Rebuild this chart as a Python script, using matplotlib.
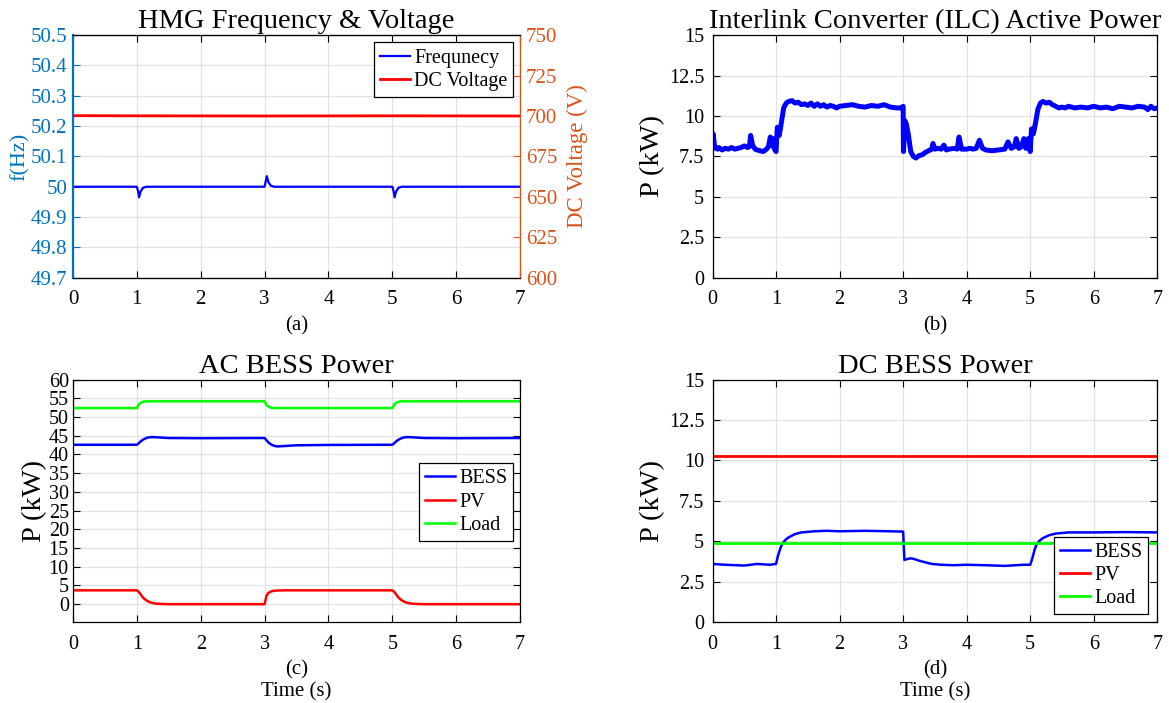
import matplotlib.pyplot as plt
from matplotlib.ticker import FormatStrFormatter, MultipleLocator

plt.rcParams['font.family'] = ['Liberation Serif', 'DejaVu Serif']
plt.rcParams['mathtext.fontset'] = 'stix'

# ---- data ----
# (a) HMG frequency and DC voltage
freq_t = [0, 1.0, 1.02, 1.035, 1.06, 1.10, 1.15, 3.0, 3.02, 3.035, 3.06, 3.10, 3.15,
          5.0, 5.02, 5.035, 5.06, 5.10, 5.15, 7.0]
freq_hz = [50, 50, 49.985, 49.965, 49.985, 49.997, 50, 50, 50.02, 50.035, 50.015, 50.003, 50,
           50, 49.985, 49.965, 49.985, 49.997, 50, 50]
vdc_t = [0, 1.0, 3.0, 5.0, 7.0]
vdc_v = [700.2, 700.1, 700.0, 700.1, 700.0]

# (b) ILC active power (kW)
ilc_t = [0, 0.01, 0.03, 0.05, 0.08, 0.1, 0.15, 0.2, 0.25, 0.3, 0.35, 0.4, 0.45, 0.5, 0.55,
         0.58, 0.6, 0.63, 0.67, 0.7, 0.75, 0.8, 0.85, 0.88, 0.91, 0.93, 0.95, 0.97, 1.0,
         1.02, 1.05, 1.08, 1.12, 1.16, 1.2, 1.25, 1.3, 1.35, 1.4, 1.45, 1.5, 1.55, 1.6,
         1.65, 1.7, 1.75, 1.8, 1.85, 1.9, 1.95, 2.0, 2.1, 2.2, 2.3, 2.4, 2.5, 2.6, 2.7,
         2.8, 2.9, 2.97, 3.0, 3.005, 3.03, 3.05, 3.08, 3.12, 3.16, 3.2, 3.25, 3.3, 3.35,
         3.4, 3.45, 3.47, 3.5, 3.55, 3.6, 3.64, 3.68, 3.72, 3.8, 3.85, 3.88, 3.92, 4.0,
         4.05, 4.1, 4.15, 4.2, 4.25, 4.3, 4.4, 4.5, 4.6, 4.65, 4.7, 4.75, 4.78, 4.82,
         4.86, 4.9, 4.93, 4.97, 5.0, 5.02, 5.05, 5.08, 5.12, 5.16, 5.2, 5.25, 5.3, 5.35,
         5.4, 5.45, 5.5, 5.55, 5.6, 5.7, 5.8, 5.9, 6.0, 6.1, 6.2, 6.3, 6.4, 6.5, 6.6,
         6.7, 6.8, 6.85, 6.9, 6.95, 7.0]
ilc_kw = [8.5, 8.9, 8.2, 8.0, 7.95, 8.05, 7.9, 8.0, 7.95, 8.05, 7.95, 8.0, 8.05, 8.15, 8.05,
          8.1, 8.8, 8.2, 7.95, 7.9, 7.85, 7.8, 7.95, 8.1, 8.7, 8.2, 8.6, 8.0, 7.8,
          9.3, 8.8, 9.5, 10.5, 10.8, 10.9, 10.95, 10.8, 10.85, 10.7, 10.75, 10.65, 10.8, 10.6,
          10.75, 10.6, 10.7, 10.55, 10.65, 10.6, 10.5, 10.6, 10.65, 10.7, 10.6, 10.55, 10.65, 10.6, 10.7,
          10.55, 10.5, 10.5, 10.6, 7.8, 9.7, 9.5, 8.9, 7.8, 7.5, 7.4, 7.55, 7.6, 7.75,
          7.85, 7.95, 8.3, 7.95, 8.0, 7.95, 8.2, 7.9, 7.95, 8.0, 7.95, 8.7, 7.95, 7.95,
          8.0, 7.95, 8.0, 8.5, 8.0, 7.9, 7.85, 7.9, 7.95, 8.4, 8.0, 8.1, 8.6, 8.0,
          8.1, 8.6, 8.0, 8.6, 7.8, 9.2, 8.9, 9.5, 10.4, 10.8, 10.9, 10.8, 10.85, 10.7,
          10.6, 10.5, 10.55, 10.5, 10.6, 10.5, 10.55, 10.5, 10.6, 10.5, 10.55, 10.45, 10.6, 10.55, 10.5,
          10.6, 10.55, 10.4, 10.6, 10.45, 10.5]

# (c) AC side powers (kW)
ac_t = [0, 1.0, 1.03, 1.06, 1.1, 1.15, 1.2, 1.25, 1.3, 1.4, 1.5, 2.0, 3.0, 3.03, 3.06,
        3.1, 3.15, 3.2, 3.3, 3.5, 4.0, 5.0, 5.03, 5.06, 5.1, 5.15, 5.2, 5.25, 5.3, 5.4,
        5.5, 6.0, 7.0]
ac_bess = [42.6, 42.6, 43.0, 43.5, 44.0, 44.4, 44.6, 44.65, 44.6, 44.5, 44.4, 44.35, 44.4, 43.8, 43.2,
           42.7, 42.3, 42.15, 42.25, 42.45, 42.55, 42.6, 43.0, 43.5, 44.0, 44.4, 44.6, 44.65, 44.6, 44.5,
           44.4, 44.35, 44.4]
ac_pv = [3.7, 3.7, 3.3, 2.6, 1.7, 1.0, 0.55, 0.3, 0.15, 0.05, 0.0, 0.0, 0.0, 2.3, 3.0,
         3.4, 3.6, 3.65, 3.7, 3.7, 3.7, 3.7, 3.3, 2.6, 1.7, 1.0, 0.55, 0.3, 0.15, 0.05,
         0.0, 0.0, 0.0]
ac_load = [52.4, 52.4, 53.4, 53.8, 54.1, 54.2, 54.2, 54.2, 54.2, 54.2, 54.2, 54.2, 54.2, 53.2, 52.8,
           52.5, 52.4, 52.4, 52.4, 52.4, 52.4, 52.4, 53.4, 53.8, 54.1, 54.2, 54.2, 54.2, 54.2, 54.2,
           54.2, 54.2, 54.2]

# (d) DC side powers (kW)
dc_t = [0, 0.2, 0.5, 0.7, 0.9, 1.0, 1.03, 1.07, 1.1, 1.15, 1.2, 1.3, 1.4, 1.6, 1.8, 2.0,
        2.4, 2.8, 3.0, 3.02, 3.06, 3.12, 3.18, 3.25, 3.35, 3.45, 3.6, 3.8, 4.0, 4.3,
        4.6, 4.9, 5.0, 5.03, 5.07, 5.1, 5.15, 5.2, 5.3, 5.4, 5.6, 6.0, 6.5, 7.0]
dc_bess = [3.6, 3.55, 3.5, 3.6, 3.55, 3.6, 4.1, 4.6, 4.85, 5.1, 5.25, 5.45, 5.55, 5.62, 5.65, 5.62,
           5.65, 5.62, 5.6, 3.85, 3.9, 3.95, 3.9, 3.8, 3.7, 3.6, 3.55, 3.52, 3.55, 3.52,
           3.48, 3.55, 3.55, 3.9, 4.5, 4.8, 5.05, 5.2, 5.38, 5.48, 5.55, 5.55, 5.57, 5.55]
dc_pv_t = [0, 7.0]
dc_pv = [10.25, 10.25]
dc_load_t = [0, 7.0]
dc_load = [4.9, 4.9]

blue = (0, 0, 1)
red = (1, 0, 0)
green = (0, 1, 0)
left_col = '#0072BD'
right_col = '#D95319'

TICK = 14.5
TITLE = 20.5
SUB = 15


def style_axes(ax):
    # MATLAB look: box on, ticks inside, light grid
    ax.grid(True, color='#e2e2e2', linewidth=0.9)
    ax.set_axisbelow(True)
    ax.tick_params(direction='in', length=5, width=0.8, top=True, right=True,
                   labelsize=TICK)
    ax.tick_params(axis='x', pad=9)
    ax.tick_params(axis='y', pad=6)
    for s in ax.spines.values():
        s.set_linewidth(0.9)
    ax.set_xlim(0, 7)
    ax.xaxis.set_major_locator(MultipleLocator(1))


def add_legend(ax, **kw):
    leg = ax.legend(fontsize=14.5, fancybox=False, edgecolor='black', framealpha=1,
                    handlelength=1.5, handletextpad=0.2, borderpad=0.3,
                    labelspacing=0.2, borderaxespad=0, **kw)
    leg.get_frame().set_linewidth(0.9)
    return leg


fig = plt.figure(figsize=(11.69, 7.03), dpi=100)
ax_a = fig.add_axes([0.0624, 0.605, 0.3825, 0.345])
ax_b = fig.add_axes([0.6095, 0.605, 0.3805, 0.345])
ax_c = fig.add_axes([0.0624, 0.115, 0.3825, 0.345])
ax_d = fig.add_axes([0.6095, 0.115, 0.3805, 0.345])

# ---- (a) ----
style_axes(ax_a)
ax_a.tick_params(right=False)
ln1, = ax_a.plot(freq_t, freq_hz, color=blue, lw=1.6, label='Frequnecy')
ax_a.set_ylim(49.7, 50.5)
ax_a.yaxis.set_major_locator(MultipleLocator(0.1))
ax_a.yaxis.set_major_formatter(FormatStrFormatter('%g'))
ax_a.tick_params(axis='y', colors=left_col, labelsize=15, pad=4)
ax_a.tick_params(axis='x', labelsize=15)
ax_a.spines['left'].set_color(left_col)
ax_a.spines['left'].set_linewidth(1.6)
ax_a.spines['right'].set_color(right_col)
ax_a.set_ylabel('f(Hz)', color=left_col, fontsize=16, labelpad=1)
ax_a.set_xlabel('(a)', fontsize=SUB, labelpad=5)
ax_a.set_title('HMG Frequency & Voltage', fontsize=TITLE, pad=5)

ax_a2 = ax_a.twinx()
ln2, = ax_a2.plot(vdc_t, vdc_v, color=red, lw=2, label='DC Voltage')
ax_a2.set_ylim(600, 750)
ax_a2.yaxis.set_major_locator(MultipleLocator(25))
ax_a2.tick_params(axis='y', direction='in', length=5, colors=right_col, labelsize=15, pad=4)
ax_a2.spines['right'].set_color(right_col)
ax_a2.spines['left'].set_visible(False)
ax_a2.set_ylabel('DC Voltage (V)', color=right_col, fontsize=16.5, labelpad=7)
add_legend(ax_a2, handles=[ln1, ln2], labels=['Frequnecy', 'DC Voltage'],
           loc='upper right', bbox_to_anchor=(0.985, 0.97))

# ---- (b) ----
style_axes(ax_b)
ax_b.plot(ilc_t, ilc_kw, color=blue, lw=3.6, solid_joinstyle='round')
ax_b.set_ylim(0, 15)
ax_b.yaxis.set_major_locator(MultipleLocator(2.5))
ax_b.yaxis.set_major_formatter(FormatStrFormatter('%g'))
ax_b.set_ylabel('P (kW)', fontsize=20.5, labelpad=3)
ax_b.set_xlabel('(b)', fontsize=SUB, labelpad=5)
ax_b.set_title('Interlink Converter (ILC) Active Power', fontsize=TITLE, pad=5)

# ---- (c) ----
style_axes(ax_c)
ax_c.plot(ac_t, ac_bess, color=blue, lw=1.8, label='BESS')
ax_c.plot(ac_t, ac_pv, color=red, lw=1.8, label='PV')
ax_c.plot(ac_t, ac_load, color=green, lw=1.8, label='Load')
ax_c.set_ylim(-4.8, 60)
ax_c.set_yticks(range(0, 61, 5))
ax_c.tick_params(axis='y', pad=3)
ax_c.set_ylabel('P (kW)', fontsize=20.5, labelpad=1)
ax_c.set_xlabel('(c)\nTime (s)', fontsize=SUB, linespacing=1.15, labelpad=5)
ax_c.set_title('AC BESS Power', fontsize=TITLE, pad=5)
add_legend(ax_c, loc='upper right', bbox_to_anchor=(0.985, 0.655))

# ---- (d) ----
style_axes(ax_d)
ax_d.plot(dc_t, dc_bess, color=blue, lw=1.8, label='BESS')
ax_d.plot(dc_pv_t, dc_pv, color=red, lw=2, label='PV')
ax_d.plot(dc_load_t, dc_load, color=green, lw=2, label='Load')
ax_d.set_ylim(0, 15)
ax_d.yaxis.set_major_locator(MultipleLocator(2.5))
ax_d.yaxis.set_major_formatter(FormatStrFormatter('%g'))
ax_d.set_ylabel('P (kW)', fontsize=20.5, labelpad=3)
ax_d.set_xlabel('(d)\nTime (s)', fontsize=SUB, linespacing=1.15, labelpad=5)
ax_d.set_title('DC BESS Power', fontsize=TITLE, pad=5)
add_legend(ax_d, loc='lower right', bbox_to_anchor=(0.98, 0.033))

fig.savefig('out.png', dpi=100)
